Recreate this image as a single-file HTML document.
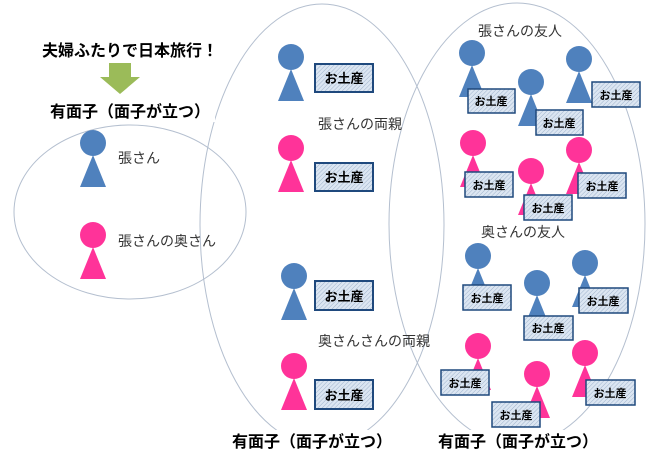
<!DOCTYPE html>
<html><head><meta charset="utf-8"><style>
html,body{margin:0;padding:0;background:#fff}
svg{display:block}
text{font-family:"Liberation Sans","Noto Sans CJK JP",sans-serif}
</style></head><body>
<svg width="655" height="456" viewBox="0 0 655 456" xmlns="http://www.w3.org/2000/svg">
<defs>
<pattern id="h" width="3" height="3" patternUnits="userSpaceOnUse" patternTransform="rotate(45)">
<rect width="3" height="3" fill="#dce6f2"/><line x1="0" y1="0" x2="0" y2="3" stroke="#9fb3cc" stroke-width="1"/>
</pattern>
<g id="b"><circle cx="0" cy="0" r="13" fill="#4f81bd"/><polygon points="0,12 -13,44 13,44" fill="#4f81bd"/></g>
<g id="p"><circle cx="0" cy="0" r="13" fill="#ff3399"/><polygon points="0,12 -13,44 13,44" fill="#ff3399"/></g>
</defs>
<g fill="none" stroke="#b4bfcf" stroke-width="1">
<ellipse cx="130" cy="212" rx="116" ry="87"/>
<ellipse cx="322" cy="225" rx="122" ry="221"/>
<ellipse cx="517" cy="224" rx="128" ry="221"/>
</g>
<rect x="40" y="98" width="175" height="24" fill="#fff"/>
<rect x="228" y="430" width="165" height="24" fill="#fff"/>
<rect x="435" y="430" width="165" height="24" fill="#fff"/>
<text x="42" y="56" font-size="16" font-weight="bold">夫婦ふたりで日本旅行！</text>
<polygon points="109,63 131,63 131,77 140,77 120,94 100,77 109,77" fill="#9bbb59"/>
<text x="50" y="117" font-size="16" font-weight="bold">有面子（面子が立つ）</text>
<use href="#b" x="93" y="143"/>
<text x="118" y="163" font-size="14" fill="#333">張さん</text>
<use href="#p" x="93" y="235"/>
<text x="118" y="246" font-size="14" fill="#333">張さんの奥さん</text>
<g font-size="13" font-weight="bold" text-anchor="middle">
<use href="#b" x="291" y="57"/>
<rect x="315" y="64" width="58" height="28" fill="url(#h)" stroke="#1f497d" stroke-width="2"/><text x="344" y="83">お土産</text>
<use href="#p" x="291" y="148"/>
<rect x="315" y="163" width="58" height="28" fill="url(#h)" stroke="#1f497d" stroke-width="2"/><text x="344" y="182">お土産</text>
<use href="#b" x="294" y="276"/>
<rect x="315" y="281" width="58" height="29" fill="url(#h)" stroke="#1f497d" stroke-width="2"/><text x="344" y="301">お土産</text>
<use href="#p" x="294" y="366"/>
<rect x="315" y="380" width="58" height="29" fill="url(#h)" stroke="#1f497d" stroke-width="2"/><text x="344" y="400">お土産</text>
</g>
<text x="318" y="129" font-size="14" fill="#333">張さんの両親</text>
<text x="318" y="346" font-size="14" fill="#333">奥さんさんの両親</text>
<text x="478" y="36" font-size="14" fill="#333">張さんの友人</text>
<text x="481" y="237" font-size="14" fill="#333">奥さんの友人</text>
<g font-size="11" font-weight="bold" text-anchor="middle">
<use href="#b" x="472" y="53"/>
<rect x="468" y="89" width="47" height="24" fill="url(#h)" stroke="#1f497d" stroke-width="1.5"/><text x="491" y="105">お土産</text>
<use href="#b" x="531" y="82"/>
<rect x="536" y="110" width="47" height="25" fill="url(#h)" stroke="#1f497d" stroke-width="1.5"/><text x="559" y="127">お土産</text>
<use href="#b" x="579" y="59"/>
<rect x="592" y="82" width="48" height="25" fill="url(#h)" stroke="#1f497d" stroke-width="1.5"/><text x="616" y="99">お土産</text>
<use href="#p" x="473" y="143"/>
<rect x="465" y="172" width="48" height="25" fill="url(#h)" stroke="#1f497d" stroke-width="1.5"/><text x="489" y="189">お土産</text>
<use href="#p" x="531" y="171"/>
<rect x="524" y="195" width="48" height="25" fill="url(#h)" stroke="#1f497d" stroke-width="1.5"/><text x="548" y="212">お土産</text>
<use href="#p" x="579" y="150"/>
<rect x="578" y="173" width="48" height="25" fill="url(#h)" stroke="#1f497d" stroke-width="1.5"/><text x="602" y="190">お土産</text>
<use href="#b" x="478" y="256"/>
<rect x="463" y="285" width="48" height="25" fill="url(#h)" stroke="#1f497d" stroke-width="1.5"/><text x="487" y="302">お土産</text>
<use href="#b" x="537" y="283"/>
<rect x="524" y="316" width="49" height="24" fill="url(#h)" stroke="#1f497d" stroke-width="1.5"/><text x="548" y="332">お土産</text>
<use href="#b" x="585" y="263"/>
<rect x="579" y="288" width="49" height="25" fill="url(#h)" stroke="#1f497d" stroke-width="1.5"/><text x="603" y="305">お土産</text>
<use href="#p" x="478" y="346"/>
<rect x="441" y="370" width="48" height="25" fill="url(#h)" stroke="#1f497d" stroke-width="1.5"/><text x="465" y="387">お土産</text>
<use href="#p" x="537" y="374"/>
<rect x="492" y="402" width="48" height="25" fill="url(#h)" stroke="#1f497d" stroke-width="1.5"/><text x="516" y="419">お土産</text>
<use href="#p" x="585" y="353"/>
<rect x="586" y="380" width="49" height="25" fill="url(#h)" stroke="#1f497d" stroke-width="1.5"/><text x="610" y="397">お土産</text>
</g>
<text x="232" y="447" font-size="16" font-weight="bold">有面子（面子が立つ）</text>
<text x="438" y="447" font-size="16" font-weight="bold">有面子（面子が立つ）</text>
</svg>
</body></html>
